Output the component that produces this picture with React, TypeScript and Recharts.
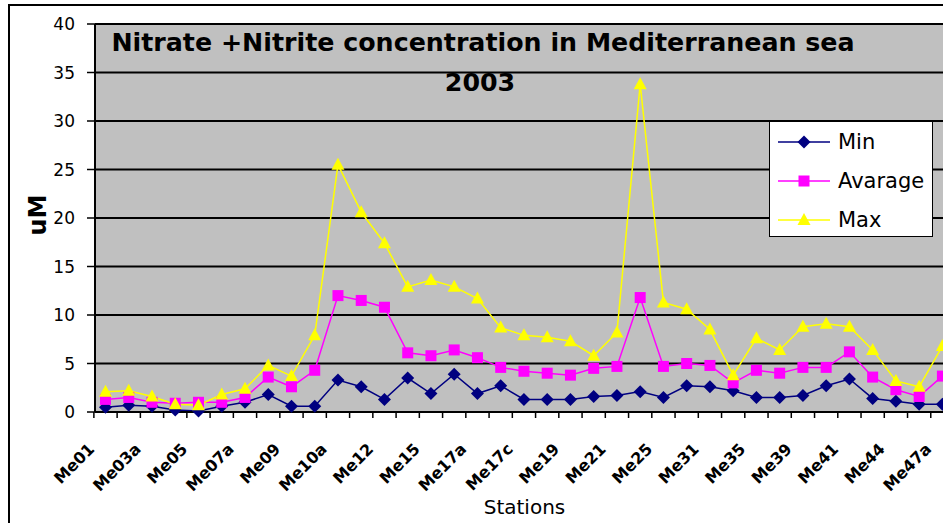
import React from 'react';
import { LineChart, Line, XAxis, YAxis, CartesianGrid, Legend } from 'recharts';

// stations along the cruise (every second one is labelled on the axis)
const stations = [
    'Me01', 'Me02', 'Me03a', 'Me04', 'Me05', 'Me06', 'Me07a', 'Me08', 'Me09', 'Me10',
    'Me10a', 'Me11', 'Me12', 'Me14', 'Me15', 'Me16', 'Me17a', 'Me17b', 'Me17c', 'Me18',
    'Me19', 'Me20', 'Me21', 'Me23', 'Me25', 'Me27', 'Me31', 'Me33', 'Me35', 'Me37',
    'Me39', 'Me40', 'Me41', 'Me43', 'Me44', 'Me46', 'Me47a'
];

const minValues = [
    0.5, 0.7, 0.6, 0.2, 0.1, 0.6, 1.0, 1.8, 0.6, 0.6,
    3.3, 2.6, 1.3, 3.5, 1.9, 3.9, 1.9, 2.7, 1.3, 1.3,
    1.3, 1.6, 1.7, 2.1, 1.5, 2.7, 2.6, 2.2, 1.5, 1.5,
    1.7, 2.7, 3.4, 1.4, 1.1, 0.8, 0.8
];

const avgValues = [
    1.3, 1.5, 1.0, 0.9, 1.0, 1.0, 1.5, 3.6, 2.6, 4.3,
    12.0, 11.5, 10.8, 6.1, 5.8, 6.4, 5.6, 4.6, 4.2, 4.0,
    3.8, 4.5, 4.7, 11.8, 4.7, 5.0, 4.8, 3.0, 4.3, 4.0,
    4.6, 4.6, 6.2, 3.6, 2.3, 1.6, 3.7
];

const maxValues = [
    2.1, 2.2, 1.6, 0.8, 0.7, 1.8, 2.4, 4.8, 3.7, 7.9,
    25.5, 20.6, 17.4, 12.9, 13.6, 12.9, 11.7, 8.7, 7.9, 7.7,
    7.3, 5.8, 8.2, 33.8, 11.3, 10.6, 8.5, 3.8, 7.6, 6.4,
    8.8, 9.1, 8.8, 6.4, 3.2, 2.6, 6.8
];

const yTicks = [0, 5, 10, 15, 20, 25, 30, 35, 40];

const series = [
    { key: 'min', name: 'Min', color: '#000080', shape: 'diamond' },
    { key: 'avg', name: 'Avarage', color: '#ff00ff', shape: 'square' },
    { key: 'max', name: 'Max', color: '#ffff00', shape: 'triangle' }
];

const data = stations.map((station, i) => ({
    station,
    min: minValues[i],
    avg: avgValues[i],
    max: maxValues[i]
}));

const FONT = '"DejaVu Sans", Verdana, sans-serif';
const PAD_L = 10.5;
const PAD_R = 11.6;

const Marker = ({ cx, cy, shape, color }: any) => {
    if (cx == null || cy == null) return null;
    if (shape === 'diamond') {
        return <path d={`M${cx},${cy - 6.5}L${cx + 6.5},${cy}L${cx},${cy + 6.5}L${cx - 6.5},${cy}Z`} fill={color} />;
    }
    if (shape === 'square') {
        return <rect x={cx - 5.5} y={cy - 5.5} width={11} height={11} fill={color} />;
    }
    return <path d={`M${cx},${cy - 7}L${cx + 6.5},${cy + 5}L${cx - 6.5},${cy + 5}Z`} fill={color} />;
};

// x axis: tick marks between categories, label on every second station
const StationTick = (props: any) => {
    const { x, y, payload, index, width } = props;
    const step = (width - PAD_L - PAD_R) / (stations.length - 1);
    const half = step / 2;
    const tx = x - 10;
    const ty = y + 38;
    return (
        <g>
            <line x1={x - half} x2={x - half} y1={y} y2={y + 6} stroke="#000" strokeWidth={1.5} />
            {index % 2 === 0 && (
                <text
                    x={tx}
                    y={ty}
                    transform={`rotate(-45 ${tx} ${ty})`}
                    textAnchor="end"
                    fontFamily={FONT}
                    fontWeight="bold"
                    fontSize={16}
                    fill="#000"
                >
                    {payload.value}
                </text>
            )}
        </g>
    );
};

const LegendBox = () => (
    <div style={{
        width: 164,
        height: 116,
        boxSizing: 'border-box',
        border: '1.5px solid #000',
        background: '#fff',
        paddingTop: 0
    }}>
        {series.map((s) => (
            <div key={s.key} style={{ display: 'flex', alignItems: 'center', height: 39 }}>
                <svg width={66} height={20} style={{ marginLeft: 6 }}>
                    <line x1={2} x2={54} y1={10} y2={10} stroke={s.color} strokeWidth={1.5} />
                    <Marker cx={28} cy={10} shape={s.shape} color={s.color} />
                </svg>
                <span style={{ fontFamily: FONT, fontSize: 21, color: '#000', marginLeft: -4 }}>{s.name}</span>
            </div>
        ))}
    </div>
);

export default function App() {
    return (
        <div style={{ position: 'absolute', left: 0, top: 0, width: 943, height: 523, overflow: 'hidden', background: '#fff' }}>
            <div style={{
                position: 'absolute', left: 8, top: 4, width: 2000, height: 2000,
                border: '2px solid #000'
            }} />
            <div style={{ position: 'absolute', left: 0, top: 0 }}>
                <LineChart
                    width={962}
                    height={523}
                    data={data}
                    margin={{ top: 24, right: 8, bottom: 0, left: 0 }}
                    style={{ fontFamily: FONT }}
                >
                    <CartesianGrid vertical={false} fill="#c0c0c0" fillOpacity={1} stroke="#000" strokeWidth={2} />
                    <XAxis
                        dataKey="station"
                        interval={0}
                        height={111}
                        padding={{ left: PAD_L, right: PAD_R }}
                        axisLine={{ stroke: '#000', strokeWidth: 2 }}
                        tickLine={false}
                        tickSize={0}
                        tickMargin={0}
                        tick={<StationTick />}
                        label={{
                            value: 'Stations',
                            position: 'insideBottom',
                            offset: 9,
                            fill: '#000',
                            fontSize: 20,
                            fontFamily: FONT
                        }}
                    />
                    <YAxis
                        domain={[0, 40]}
                        ticks={yTicks}
                        interval={0}
                        width={95}
                        axisLine={{ stroke: '#000', strokeWidth: 2 }}
                        tickLine={{ stroke: '#000', strokeWidth: 1.5 }}
                        tickSize={8}
                        tickMargin={12}
                        tick={{ fill: '#000', fontSize: 17, fontFamily: FONT }}
                        label={({ viewBox }: any) => (
                            <text
                                x={46}
                                y={viewBox.y + viewBox.height / 2 - 3}
                                transform={`rotate(-90 46 ${viewBox.y + viewBox.height / 2 - 3})`}
                                textAnchor="middle"
                                fontFamily={FONT}
                                fontWeight="bold"
                                fontSize={24}
                                fill="#000"
                            >
                                uM
                            </text>
                        )}
                    />
                    <Legend
                        layout="vertical"
                        align="center"
                        verticalAlign="middle"
                        content={<LegendBox />}
                        wrapperStyle={{ left: 769, top: 121, width: 164, height: 116 }}
                    />
                    {series.map((s) => (
                        <Line
                            key={s.key}
                            type="linear"
                            dataKey={s.key}
                            name={s.name}
                            stroke={s.color}
                            strokeWidth={1.5}
                            isAnimationActive={false}
                            dot={(p: any) => <Marker key={`${s.key}-${p.index}`} cx={p.cx} cy={p.cy} shape={s.shape} color={s.color} />}
                            activeDot={false}
                        />
                    ))}
                </LineChart>
            </div>
            <div style={{
                position: 'absolute', left: 0, top: 23, width: 966, textAlign: 'center',
                fontFamily: FONT, fontWeight: 'bold', fontSize: 25.3, lineHeight: '40px', color: '#000',
                pointerEvents: 'none'
            }}>
                <div>Nitrate +Nitrite concentration in Mediterranean sea</div>
                <div style={{ marginLeft: -6 }}>2003</div>
            </div>
        </div>
    );
}
